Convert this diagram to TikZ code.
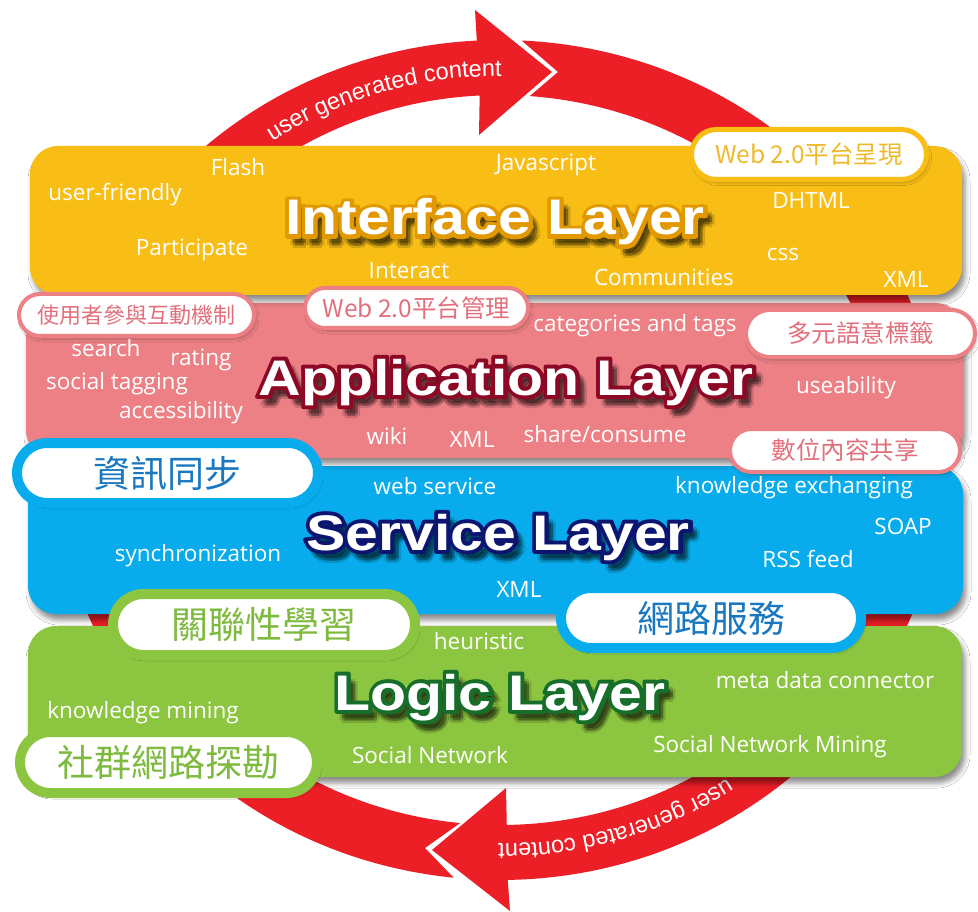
\documentclass[tikz,border=0pt]{standalone}
\usepackage{fontspec}
\setmainfont{Open Sans}
\newfontfamily\titlefont[FakeStretch=1.18]{Liberation Sans Bold}
\newfontfamily\titlerim[FakeStretch=1.18,FakeBold=9]{Liberation Sans Bold}
\newfontfamily\cjkfont{Noto Sans CJK TC}
\newfontfamily\arcfont{Liberation Sans}
\usetikzlibrary{calc,shadows.blur,shapes.misc,decorations.text}

\definecolor{ringred}{RGB}{236,30,38}
\definecolor{yellowL}{RGB}{248,190,22}
\definecolor{pinkL}{RGB}{236,128,133}
\definecolor{blueL}{RGB}{8,172,236}
\definecolor{greenL}{RGB}{140,197,64}
\definecolor{yellowT}{RGB}{238,185,40}
\definecolor{pinkT}{RGB}{226,112,124}
\definecolor{blueT}{RGB}{25,120,192}
\definecolor{greenT}{RGB}{125,186,62}
\definecolor{ifaceLine}{RGB}{226,152,0}
\definecolor{appLine}{RGB}{140,8,36}
\definecolor{servLine}{RGB}{12,22,112}
\definecolor{logicLine}{RGB}{22,110,42}

\newcommand\wordsize{\fontsize{22.5}{22.5}\selectfont}
\newcommand\arcstyle{\arcfont\fontsize{23.5}{23.5}\selectfont\color{white}}
\newcommand\smallcjk{\cjkfont\fontsize{24.5}{24.5}\selectfont}
\newcommand\bigcjk{\cjkfont\fontsize{37}{37}\selectfont}

% white title over a coloured rim and a soft dark shadow
\newcommand\layertitle[4]{%
  \foreach \s in {0,90,180,270}
    \node[ttl, font=\titlerim\fontsize{50}{50}\selectfont, text=black, opacity=0.14]
      at ($(#1)+(6,-8)+(\s:2.5)$) {#4};
  \foreach \s in {0,45,...,315}
    \node[ttl, font=\titlerim\fontsize{50}{50}\selectfont, text=#2] at ($(#1)+(\s:1.6)$) {#4};
  \node[ttl, text=white] (#3) at (#1) {#4};
}

\tikzset{
  wordtxt/.style={font=\wordsize, text=white, inner sep=0pt},
  ttl/.style={font=\titlefont\fontsize{50}{50}\selectfont, anchor=base, inner sep=0pt},
  bandbox/.style={rounded corners=28pt,
    blur shadow={shadow xshift=3pt, shadow yshift=-6pt, shadow blur radius=5pt, shadow opacity=45}},
  pill/.style={rounded rectangle, fill=white, inner sep=0pt,
    blur shadow={shadow xshift=2pt, shadow yshift=-3pt, shadow blur radius=3pt, shadow opacity=25}},
}

\begin{document}
\begin{tikzpicture}[x=1pt,y=1pt]
\useasboundingbox (0,0) rectangle (978,-912);
\fill[white] (0,0) rectangle (978,-912);

\coordinate (c) at (500,-460);

% ---- circular arrows ----
% left half, head at the top pointing right
\fill[ringred] ($(c)+(264:443 and 420)$)
  arc[start angle=264, end angle=93, x radius=443, y radius=420]
  -- (475,-10) coordinate (hA1) -- (552,-72) coordinate (tipT) -- (479,-135) coordinate (hA2)
  -- ($(c)+(93:388 and 365)$)
  arc[start angle=93, end angle=264.1, x radius=388, y radius=365]
  -- (425,-848) -- cycle;
% right half, head at the bottom pointing left
\fill[ringred] ($(c)+(87.2:443 and 420)$)
  arc[start angle=87.2, end angle=-89, x radius=443, y radius=420]
  -- (510,-911) coordinate (hB1) -- (432,-850) coordinate (tipB) -- (506,-788) coordinate (hB2)
  -- ($(c)+(-89:388 and 365)$)
  arc[start angle=-89, end angle=85.6, x radius=388, y radius=365]
  -- (558,-72) -- cycle;

\path[decorate, decoration={text along path, text={|\arcstyle|user generated content}}]
  ($(c)+(124:407 and 384)$) arc[start angle=124, end angle=80, x radius=407, y radius=384];
\path[decorate, decoration={text along path, text={|\arcstyle|user generated content}}]
  ($(c)+(-56:407 and 384)$) arc[start angle=-56, end angle=-110, x radius=407, y radius=384];

% ---- layer bands ----
\fill[greenL, bandbox] (28,-626) rectangle (962,-777);
\fill[blueL, bandbox] (28,-466) rectangle (963,-614);
\fill[pinkL, bandbox] (26,-303) rectangle (963,-458);
\fill[yellowL, bandbox] (30,-146) rectangle (962,-295);

% ---- labels in pills ----
\node[pill, draw=yellowL, line width=5pt, minimum width=235pt, minimum height=50pt,
  text=yellowT, font=\smallcjk] (pI) at (809,-154.5) {Web 2.0平台呈現};
\node[pill, draw=pinkL, line width=4pt, minimum width=235pt, minimum height=42pt,
  text=pinkT, font=\cjkfont\fontsize{22}{22}\selectfont] (pA1) at (136.5,-315) {使用者參與互動機制};
\node[pill, draw=pinkL, line width=4pt, minimum width=223pt, minimum height=40pt,
  text=pinkT, font=\smallcjk] (pA2) at (416.5,-308) {Web 2.0平台管理};
\node[pill, draw=pinkL, line width=4pt, minimum width=229pt, minimum height=47pt,
  text=pinkT, font=\smallcjk] (pA3) at (860.5,-333.5) {多元語意標籤};
\node[pill, draw=pinkL, line width=4pt, minimum width=230pt, minimum height=43pt,
  text=pinkT, font=\smallcjk] (pA4) at (845,-450.5) {數位內容共享};
\node[pill, draw=blueL, line width=10pt, minimum width=301pt, minimum height=60pt,
  text=blueT, font=\bigcjk] (pS1) at (167.5,-473) {資訊同步};
\node[pill, draw=greenL, line width=10pt, minimum width=302pt, minimum height=61pt,
  text=greenT, font=\bigcjk] (pL1) at (264,-624.5) {關聯性學習};
\node[pill, draw=blueL, line width=10pt, minimum width=300pt, minimum height=60pt,
  text=blueT, font=\bigcjk] (pS2) at (711,-618) {網路服務};
\node[pill, draw=greenL, line width=10pt, minimum width=297pt, minimum height=61pt,
  text=greenT, font=\bigcjk] (pL2) at (168.5,-762.5) {社群網路探勘};

% ---- keywords: interface layer ----
\node[wordtxt] (iFlash) at (238,-167) {Flash};
\node[wordtxt] (iJs) at (546,-165) {Javascript};
\node[wordtxt] (iUF) at (115,-195) {user-friendly};
\node[wordtxt] (iDH) at (811,-200) {DHTML};
\node[wordtxt] (iPa) at (192,-250) {Participate};
\node[wordtxt] (iIn) at (409,-271) {Interact};
\node[wordtxt] (iCo) at (664,-277) {Communities};
\node[wordtxt] (iCss) at (783,-254) {css};
\node[wordtxt] (iXml) at (906,-279) {XML};
% ---- keywords: application layer ----
\node[wordtxt] (aCat) at (635,-326) {categories and tags};
\node[wordtxt] (aSe) at (106,-348) {search};
\node[wordtxt] (aRa) at (201,-360) {rating};
\node[wordtxt] (aSt) at (117,-384) {social tagging};
\node[wordtxt] (aAc) at (181,-413) {accessibility};
\node[wordtxt] (aUs) at (846,-388) {useability};
\node[wordtxt] (aWi) at (387,-436) {wiki};
\node[wordtxt] (aXml) at (472,-439) {XML};
\node[wordtxt] (aSh) at (605,-434) {share/consume};
% ---- keywords: service layer ----
\node[wordtxt] (sWs) at (435,-486) {web service};
\node[wordtxt] (sKe) at (794,-488) {knowledge exchanging};
\node[wordtxt] (sSo) at (903,-526) {SOAP};
\node[wordtxt] (sSy) at (198,-556) {synchronization};
\node[wordtxt] (sRss) at (808,-559) {RSS feed};
\node[wordtxt] (sXml) at (519,-589) {XML};
% ---- keywords: logic layer ----
\node[wordtxt] (lHe) at (479,-641) {heuristic};
\node[wordtxt] (lMd) at (825,-680) {meta data connector};
\node[wordtxt] (lKm) at (143,-713) {knowledge mining};
\node[wordtxt] (lSn) at (430,-755) {Social Network};
\node[wordtxt] (lSnm) at (770,-747) {Social Network Mining};

% ---- layer titles ----
\coordinate (tI) at (495,-235);
\coordinate (tA) at (506,-395);
\coordinate (tS) at (498,-550);
\coordinate (tL) at (500,-710);
\layertitle{tI}{ifaceLine}{titleI}{Interface Layer}
\layertitle{tA}{appLine}{titleA}{Application Layer}
\layertitle{tS}{servLine}{titleS}{Service Layer}
\layertitle{tL}{logicLine}{titleL}{Logic Layer}
\end{tikzpicture}
\end{document}
